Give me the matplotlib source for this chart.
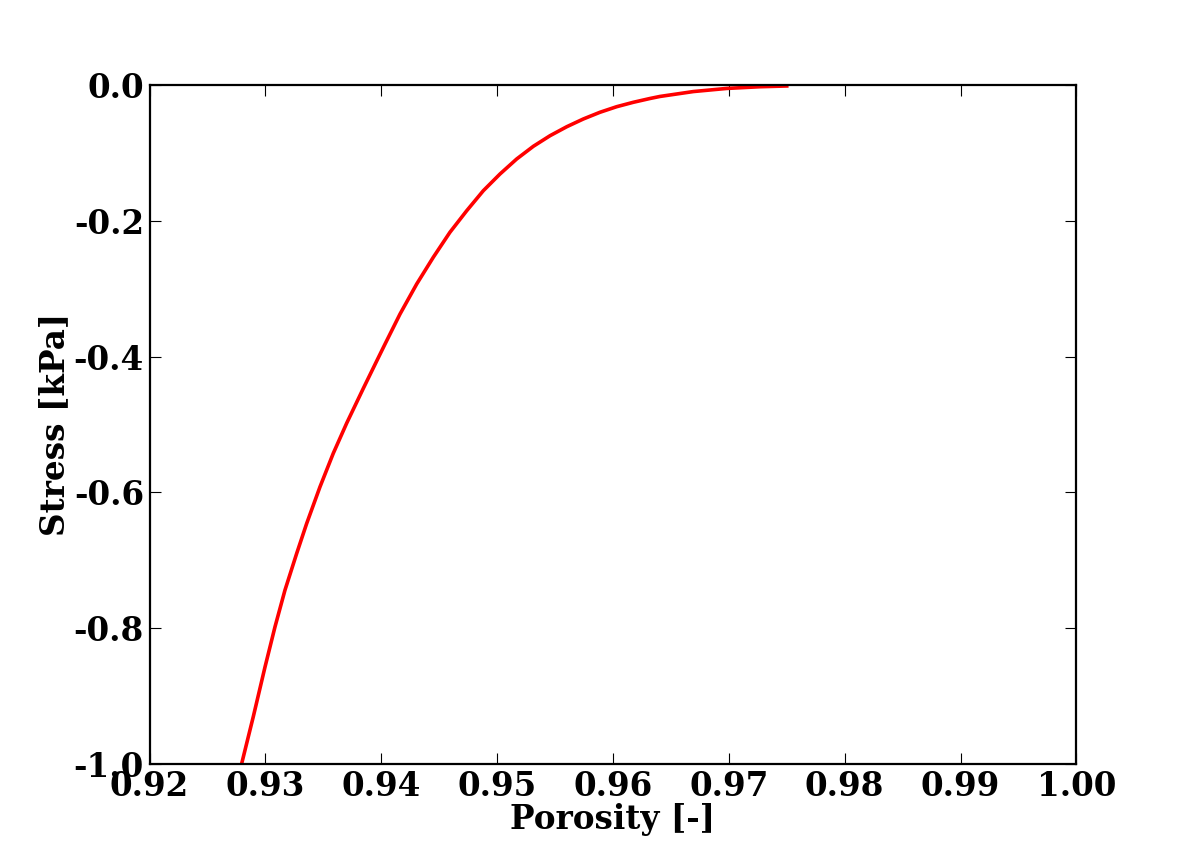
import numpy as np
import matplotlib
matplotlib.use('Agg')
import matplotlib.pyplot as plt

# Values
porosity = [0.92796, 0.92896, 0.92997, 0.93083, 0.93169, 0.93270, 0.93356,
            0.93471, 0.93586, 0.93702, 0.93845, 0.93961, 0.94033, 0.94162,
            0.94306, 0.94449, 0.94593, 0.94738, 0.94881, 0.95025, 0.95169,
            0.95313, 0.95457, 0.95601, 0.95744, 0.95888, 0.96032, 0.96176,
            0.96320, 0.96406, 0.96694, 0.96982, 0.97269, 0.97500]
stress = [-0.999, -0.930, -0.857, -0.798, -0.744, -0.690, -0.646,
          -0.592, -0.5425, -0.498, -0.447, -0.4065, -0.3815, -0.3374,
          -0.2932, -0.2539, -0.217, -0.1852, -0.1558, -0.1312, -0.1091,
          -0.0904, -0.0748, -0.0616, -0.0502, -0.0403, -0.0321, -0.0256,
          -0.0200, -0.0170, -0.0098, -0.0052, -0.0027, -0.0016]

xticks = [0.92, 0.93, 0.94, 0.95, 0.96, 0.97, 0.98, 0.99, 1.00]
yticks = [0.0, -0.2, -0.4, -0.6, -0.8, -1.0]

plt.rcParams['font.family'] = 'DejaVu Serif'
plt.rcParams['font.weight'] = 'bold'
plt.rcParams['font.size'] = 23.5
plt.rcParams['axes.unicode_minus'] = False

fig = plt.figure(figsize=(11.96, 8.49), dpi=100)
ax = fig.add_axes([0.125, 0.1, 0.775, 0.8])

ax.plot(porosity, stress, color='red', linewidth=2.6)

ax.set_xlim(0.92, 1.00)
ax.set_ylim(-1.0, 0.0)
ax.set_xticks(xticks)
ax.set_yticks(yticks)
ax.set_xticklabels(['%.2f' % v for v in xticks])
ax.set_yticklabels(['%.1f' % v for v in yticks])

ax.tick_params(direction='in', top=True, right=True, length=8, width=0.8, pad=4)
for s in ax.spines.values():
    s.set_linewidth(1.6)

ax.set_xlabel('Porosity [-]', fontweight='bold', labelpad=0)
ax.set_ylabel('Stress [kPa]', fontweight='bold', labelpad=2)

plt.savefig('out.png', dpi=100)
